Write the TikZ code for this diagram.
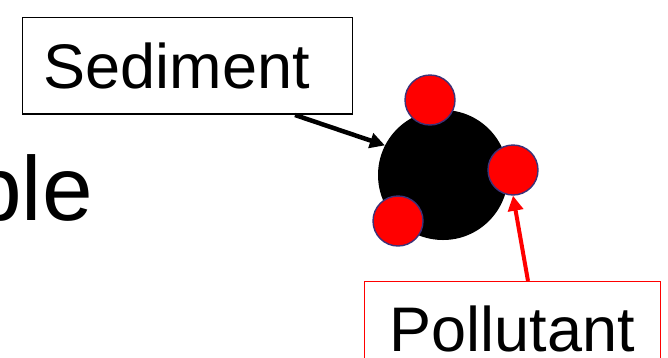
\documentclass[tikz,border=0pt]{standalone}
\usepackage{fontspec}
\setmainfont{Liberation Sans}
\usetikzlibrary{arrows.meta}
\definecolor{rimblue}{RGB}{60,50,120}
\definecolor{pured}{RGB}{255,0,0}
\tikzset{
  labelbox/.style={draw, line width=1.3pt, anchor=north west, inner xsep=21pt, inner ysep=25pt, align=left, font=\fontsize{63}{70}\selectfont},
  redbead/.style={circle, fill=pured, draw=rimblue, line width=1.4pt, minimum size=50pt, inner sep=0pt},
  pointer/.style={line width=4.5pt, -{Triangle[length=15pt,width=15pt]}}
}
\begin{document}
\begin{tikzpicture}[x=1pt,y=1pt]
\useasboundingbox (0,0) rectangle (668,-357);
\clip (0,0) rectangle (668,-357);
\fill[white] (0,0) rectangle (668,-357);
% partial word
\node[anchor=base east, inner sep=0pt, font=\fontsize{91}{100}\selectfont] (ble) at (93,-220) {ble};
% sediment particle
\node[circle, fill=black, minimum size=130pt, inner sep=0pt] (core) at (443,-175) {};
\node[redbead] (p1) at (430,-100) {};
\node[redbead] (p2) at (513,-170) {};
\node[redbead] (p3) at (398,-221) {};
% labels
\node[labelbox, text width=288pt] (sed) at (22,-17) {Sediment};
\node[labelbox, draw=pured, inner xsep=25pt, inner ysep=24pt, text width=246pt] (pol) at (364,-281) {Pollutant};
% connectors
\coordinate (sa) at (295,-115);
\coordinate (pa) at (528,-281);
\draw[pointer] (sa) -- (core.153);
\draw[pointer, pured, line width=4pt] (pa) -- (p2.south);
\end{tikzpicture}
\end{document}
